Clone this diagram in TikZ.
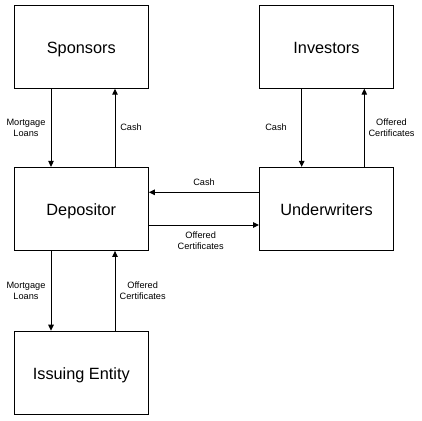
\documentclass[tikz,border=0pt]{standalone}
\usepackage{fontspec}
\setmainfont{Liberation Sans}
\usetikzlibrary{arrows.meta}
\begin{document}
\begin{tikzpicture}[x=1pt,y=-1pt,
  box/.style={draw,line width=1pt,minimum width=134pt,minimum height=83pt,inner sep=0pt,text height=16pt,text depth=2pt,font=\fontsize{16.3}{18}\selectfont},
  arr/.style={line width=1pt,-{Triangle[length=6pt,width=5.5pt]}},
  lbl/.style={font=\fontsize{9.2}{11}\selectfont,align=center,inner sep=0pt}]
\useasboundingbox[fill=white] (0,0) rectangle (422,420);
\node[box] (sp) at (81.3,46.7) {Sponsors};
\node[box] (inv) at (326.5,46.7) {Investors};
\node[box] (dep) at (81.3,208.9) {Depositor};
\node[box] (uw) at (326.5,208.9) {Underwriters};
\node[box] (ie) at (81.3,372.7) {Issuing Entity};
\coordinate (xa) at (51,0);
\coordinate (xb) at (115,0);
\coordinate (xc) at (301.7,0);
\coordinate (xd) at (364.3,0);
\coordinate (ya) at (0,192.3);
\coordinate (yb) at (0,225);
\draw[arr] (sp.south -| xa) -- (dep.north -| xa);
\draw[arr] (dep.north -| xb) -- (sp.south -| xb);
\draw[arr] (inv.south -| xc) -- (uw.north -| xc);
\draw[arr] (uw.north -| xd) -- (inv.south -| xd);
\draw[arr] (dep.south -| xa) -- (ie.north -| xa);
\draw[arr] (ie.north -| xb) -- (dep.south -| xb);
\draw[arr] (uw.west |- ya) -- (dep.east |- ya);
\draw[arr] (dep.east |- yb) -- (uw.west |- yb);
\node[lbl] (l1) at (26,127.5) {Mortgage\\Loans};
\node[lbl] (l2) at (131,127.7) {Cash};
\node[lbl] (l3) at (276,127.7) {Cash};
\node[lbl] (l4) at (391.5,127.7) {Offered\\Certificates};
\node[lbl] (l5) at (26,290.5) {Mortgage\\Loans};
\node[lbl] (l6) at (142.7,290.5) {Offered\\Certificates};
\node[lbl] (l7) at (204,182.7) {Cash};
\node[lbl] (l8) at (200.7,240.5) {Offered\\Certificates};
\end{tikzpicture}
\end{document}
